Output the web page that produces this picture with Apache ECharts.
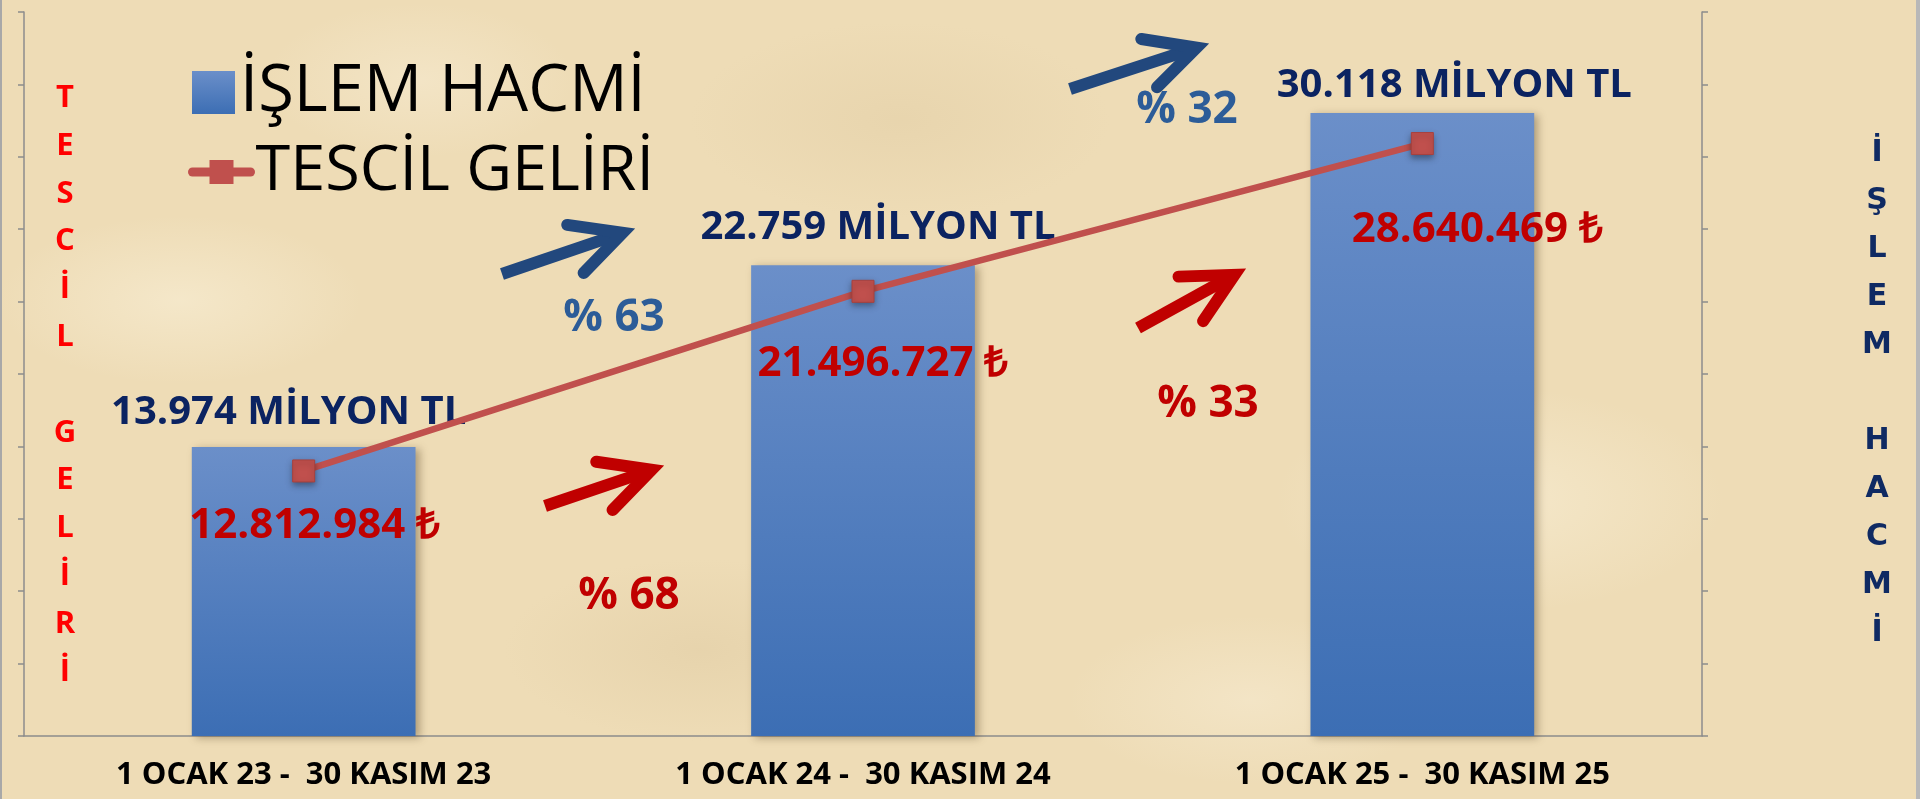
<!DOCTYPE html>
<html>
<head>
<meta charset="utf-8">
<title>İşlem Hacmi - Tescil Geliri</title>
<script src="https://cdn.jsdelivr.net/npm/echarts@6/dist/echarts.min.js"></script>
<style>
    html, body { margin: 0; padding: 0; }
    body {
        width: 1920px; height: 799px; overflow: hidden;
        background-color: #eedcb6;
        background-image:
            radial-gradient(ellipse 260px 120px at 180px 300px, rgba(246,234,206,0.8), rgba(246,234,206,0) 70%),
            radial-gradient(ellipse 300px 140px at 900px 120px, rgba(228,208,168,0.6), rgba(228,208,168,0) 70%),
            radial-gradient(ellipse 320px 160px at 1500px 500px, rgba(246,234,206,0.8), rgba(246,234,206,0) 70%),
            radial-gradient(ellipse 280px 130px at 700px 650px, rgba(226,206,166,0.6), rgba(226,206,166,0) 70%),
            radial-gradient(ellipse 260px 120px at 1250px 700px, rgba(245,232,204,0.7), rgba(245,232,204,0) 70%),
            radial-gradient(ellipse 220px 110px at 420px 80px, rgba(245,232,204,0.7), rgba(245,232,204,0) 70%);
    }
    #main {
        position: absolute; left: 0; top: 0; width: 1920px; height: 799px;
        box-sizing: border-box;
        border-left: 2px solid #a8a8a8;
        border-right: 4px solid #b8b8b8;
    }
</style>
</head>
<body>
<div id="main"></div>

<script>
    // veriler
    var categories = ['1 OCAK 23 -  30 KASIM 23', '1 OCAK 24 -  30 KASIM 24', '1 OCAK 25 -  30 KASIM 25'];
    var islemHacmi = [13.974, 22.759, 30.118];            // milyon TL
    var tescilGeliri = [12812984, 21496727, 28640469];    // TL
    var hacimArtis = ['% 63', '% 32'];
    var gelirArtis = ['% 68', '% 33'];

    // etiket kaydırmaları (elle taşınmış etiketler)
    var barLabelOffsets = [[-15, -9], [15, -13], [32, -2]];
    var lineLabelOffsets = [[11, 55], [20, 73], [55, 86]];

    function tl(n) {
        return String(n).replace(/\B(?=(\d{3})+(?!\d))/g, '.');
    }

    // harfleri alt alta diz, kelimeler arasında bir satır boşluk
    function dikey(text) {
        return '{p| }\n' + text.split(' ').map(function (w) {
            return w.split('').join('\n');
        }).join('\n\n');
    }

    // kalın gövdeli, açık uçlu ok
    function arrow(x1, y1, x2, y2, color) {
        var a = Math.atan2(y2 - y1, x2 - x1);
        var spread = 27 * Math.PI / 180, len = 56;
        var tx = x2 - 12 * Math.cos(a), ty = y2 - 12 * Math.sin(a);
        var p1 = [tx - len * Math.cos(a - spread), ty - len * Math.sin(a - spread)];
        var p2 = [tx - len * Math.cos(a + spread), ty - len * Math.sin(a + spread)];
        var sx = tx - 10 * Math.cos(a), sy = ty - 10 * Math.sin(a);
        return [
            {type: 'line', shape: {x1: x1, y1: y1, x2: sx, y2: sy},
                style: {stroke: color, lineWidth: 12, lineCap: 'butt'}},
            {type: 'polyline', shape: {points: [p1, [tx, ty], p2]},
                style: {stroke: color, lineWidth: 12, lineCap: 'round', lineJoin: 'miter', fill: null}}
        ];
    }

    function pct(text, x, y, color) {
        return {type: 'text', x: x, y: y, style: {
            text: text, fill: color, font: 'bold 44px "Open Sans"',
            align: 'center', verticalAlign: 'middle'
        }};
    }

    var blue = '#22487d', red = '#c00000';
    var graphics = []
        .concat(arrow(500, 274, 632, 229, blue))
        .concat(arrow(1068, 89, 1206, 44, blue))
        .concat(arrow(543, 506, 661, 466, red))
        .concat(arrow(1136, 328, 1243, 269, red));
    graphics.push(pct(hacimArtis[0], 612, 318, '#2c5c98'));
    graphics.push(pct(hacimArtis[1], 1185, 110, '#2c5c98'));
    graphics.push(pct(gelirArtis[0], 627, 596, red));
    graphics.push(pct(gelirArtis[1], 1206, 404, red));

    var chart = echarts.init(document.getElementById('main'));
    var option = {
        backgroundColor: 'transparent',
        animation: false,
        grid: {left: 22, right: 214, top: 12, bottom: 63, outerBoundsMode: 'none'},
        legend: [
            {
                left: 190, top: 60, padding: 0,
                itemWidth: 43, itemHeight: 43, itemGap: 0,
                textStyle: {fontFamily: 'Open Sans', fontSize: 65, color: '#000', lineHeight: 64},
                data: [{name: 'İŞLEM HACMİ', icon: 'path://M0,0H10V10H0Z'}]
            },
            {
                left: 186, top: 140, padding: 0,
                itemWidth: 58, itemHeight: 30, itemGap: 0,
                textStyle: {fontFamily: 'Open Sans', fontSize: 63, color: '#000', lineHeight: 64},
                lineStyle: {width: 9, cap: 'round'},
                itemStyle: {borderWidth: 0},
                data: [{name: 'TESCİL GELİRİ'}]
            }
        ],
        xAxis: {
            type: 'category',
            data: categories,
            axisLine: {lineStyle: {color: '#8c8c8c', width: 1.5}},
            axisTick: {length: 7, lineStyle: {color: '#8c8c8c', width: 1.5}},
            axisLabel: {
                margin: 24, color: '#000', fontFamily: 'Open Sans',
                fontWeight: 'bold', fontSize: 31
            }
        },
        yAxis: [
            {
                type: 'value', min: 0, max: 35000000, interval: 3500000,
                name: dikey('TESCİL GELİRİ'),
                nameLocation: 'middle', nameRotate: 0, nameGap: -41,
                nameTextStyle: {
                    color: '#ff0000', fontFamily: 'Open Sans', fontWeight: 'bold',
                    fontSize: 31, lineHeight: 47.8, align: 'center', verticalAlign: 'middle',
                    rich: {p: {fontSize: 10, lineHeight: 22}}
                },
                axisLine: {show: true, lineStyle: {color: '#8c8c8c', width: 1.5}},
                axisTick: {show: true, length: 6, lineStyle: {color: '#8c8c8c', width: 1.5}},
                axisLabel: {show: false},
                splitLine: {show: false}
            },
            {
                type: 'value', min: 0, max: 35, interval: 3.5,
                name: dikey('İŞLEM HACMİ'),
                nameLocation: 'middle', nameRotate: 0, nameGap: 175,
                nameTextStyle: {
                    color: '#0f2a63', fontFamily: 'DejaVu Sans', fontWeight: 'bold',
                    fontSize: 30, lineHeight: 48, align: 'center', verticalAlign: 'middle',
                    rich: {p: {fontSize: 10, lineHeight: 38}}
                },
                axisLine: {show: true, lineStyle: {color: '#8c8c8c', width: 1.5}},
                axisTick: {show: true, length: 6, lineStyle: {color: '#8c8c8c', width: 1.5}},
                axisLabel: {show: false},
                splitLine: {show: false}
            }
        ],
        series: [
            {
                name: 'İŞLEM HACMİ',
                type: 'bar',
                yAxisIndex: 1,
                barWidth: '40%',
                z: 2,
                itemStyle: {
                    color: new echarts.graphic.LinearGradient(0, 0, 0, 1, [
                        {offset: 0, color: '#6b8fc9'},
                        {offset: 1, color: '#3c6eb4'}
                    ]),
                    shadowColor: 'rgba(60,40,10,0.35)',
                    shadowBlur: 8,
                    shadowOffsetX: 4,
                    shadowOffsetY: 2
                },
                label: {
                    show: true, position: 'top', distance: 5,
                    color: '#0b2361', fontFamily: 'Open Sans', fontWeight: 'bold', fontSize: 40,
                    formatter: function (p) { return p.value.toFixed(3) + ' MİLYON TL'; }
                },
                data: islemHacmi.map(function (v, i) {
                    return {value: v, label: {offset: barLabelOffsets[i]}};
                })
            },
            {
                name: 'TESCİL GELİRİ',
                type: 'line',
                yAxisIndex: 0,
                z: 5,
                symbol: 'rect',
                symbolSize: 22,
                lineStyle: {color: '#c0504d', width: 6.5},
                itemStyle: {
                    color: '#c0504d', borderColor: '#a8403d', borderWidth: 1,
                    shadowColor: 'rgba(0,0,0,0.35)', shadowBlur: 6, shadowOffsetY: 3
                },
                label: {
                    show: true, position: 'inside',
                    color: '#c00000', fontFamily: 'Open Sans', fontWeight: 'bold', fontSize: 42,
                    formatter: function (p) { return tl(p.value) + ' ₺'; }
                },
                data: tescilGeliri.map(function (v, i) {
                    return {value: v, label: {offset: lineLabelOffsets[i]}};
                })
            }
        ],
        graphic: graphics
    };
    chart.setOption(option);
</script>
</body>
</html>
